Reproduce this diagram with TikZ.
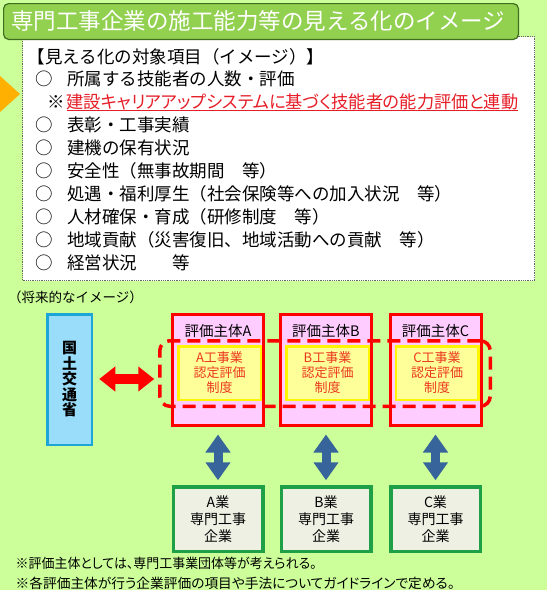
\documentclass[tikz,border=0pt]{standalone}
\usepackage{fontspec}
\setmainfont{Noto Sans CJK JP}
\usetikzlibrary{arrows.meta}
\definecolor{bggreen}{RGB}{204,255,153}
\definecolor{titlefill}{RGB}{146,208,80}
\definecolor{titledraw}{RGB}{62,110,30}
\definecolor{orangetri}{RGB}{255,176,0}
\definecolor{redtext}{RGB}{230,30,40}
\definecolor{evalpink}{RGB}{255,204,255}
\definecolor{yellowfill}{RGB}{255,255,153}
\definecolor{yellowdraw}{RGB}{255,245,0}
\definecolor{yred}{RGB}{235,55,30}
\definecolor{mlitfill}{RGB}{153,221,250}
\definecolor{mlitdraw}{RGB}{30,165,215}
\definecolor{bluearrow}{RGB}{55,100,155}
\definecolor{compdraw}{RGB}{30,160,70}
\definecolor{compfill}{RGB}{238,240,228}
\newcommand\fs[2]{\fontsize{#1}{#2}\selectfont}
\begin{document}
\begin{tikzpicture}[x=1pt,y=-1pt,
  txt/.style={anchor=base west, inner sep=0pt},
  itemfont/.style={font=\fs{17.5}{23}},
  titlebox/.style={draw=titledraw, fill=titlefill, line width=1.2pt, rounded corners=5pt, inner sep=0pt, minimum width=514.8pt, minimum height=35.8pt},
  listbox/.style={draw=black!60, densely dotted, line width=0.8pt, fill=white, inner sep=0pt, minimum width=512pt, minimum height=244pt},
  mlitbox/.style={draw=mlitdraw, fill=mlitfill, line width=2.5pt, inner sep=0pt, minimum width=44.5pt, minimum height=130.5pt, align=center, font=\fs{15}{15.5}\bfseries},
  evalbox/.style={draw=red, fill=evalpink, line width=3pt, inner sep=0pt, minimum width=91pt, minimum height=111pt},
  evallabel/.style={inner sep=0pt, font=\fs{14.5}{16}},
  ybox/.style={draw=yellowdraw, fill=yellowfill, line width=2.5pt, inner sep=0pt, minimum width=82.5pt, minimum height=53.5pt, align=center, text=yred, font=\fs{13}{15}},
  dashbox/.style={draw=red, line width=3.5pt, dash pattern=on 13pt off 7pt, rounded corners=10pt, inner sep=0pt, minimum width=330.5pt, minimum height=65.5pt},
  compbox/.style={draw=compdraw, fill=compfill, line width=3.5pt, inner sep=0pt, minimum width=89.5pt, minimum height=64.5pt, align=center, font=\fs{14}{17}},
  redarrow/.style={draw=red, line width=10pt, {Triangle[length=16pt,width=24pt]}-{Triangle[length=16pt,width=24pt]}},
  bluearr/.style={draw=bluearrow, line width=9pt, {Triangle[length=18pt,width=24pt]}-{Triangle[length=18pt,width=24pt]}},
  ]
\path[use as bounding box] (0,0) rectangle (547,590);
\fill[bggreen] (0,0) rectangle (547,590);
% list box
\node[listbox] (list) at (278.5,158.5) {};
% title
\node[titlebox] (title) at (261,21.5) {};
\node[txt, text=white, font=\fs{22.5}{27}] (titletext) at (11,29.6) {専門工事企業の施工能力等の見える化のイメージ};
% orange triangle
\fill[orangetri] (0,76) -- (20,94) -- (0,112) -- cycle;
% header and items
\node[txt, itemfont] (hdr) at (27.5,63.6) {【見える化の対象項目（イメージ）】};
\foreach \k/\t in {0/所属する技能者の人数・評価, 2/表彰・工事実績, 3/建機の保有状況, 4/安全性（無事故期間　等）, 5/処遇・福利厚生（社会保険等への加入状況　等）, 6/人材確保・育成（研修制度　等）, 7/地域貢献（災害復旧、地域活動への貢献　等）, 8/経営状況　　等}{
  \node[txt, itemfont] (bul\k) at (35.5,{85.6+23*\k}) {○};
  \node[txt, itemfont] (item\k) at (67,{85.6+23*\k}) {\t};
}
\node[txt, itemfont] (kome) at (47,108.6) {※};
\node[txt, itemfont, text=redtext] (redline) at (66.5,108.6) {\resizebox{451.5pt}{\height}{\addfontfeature{RawFeature=+palt}建設キャリアアップシステムに基づく技能者の能力評価と連動}};
\draw[redtext, line width=1pt] ([yshift=-2pt]redline.base west) -- ([yshift=-2pt]redline.base east);
% future image label
\node[txt, font=\fs{13.5}{15}] (future) at (8,302) {（将来的なイメージ）};
% MLIT
\node[mlitbox] (mlit) at (69.5,379.5) {国\\土\\交\\通\\省};
% evaluation bodies
\foreach \n/\cx in {A/218, B/326, C/435.5}{
  \node[evalbox] (eval\n) at (\cx,370) {};
  \node[evallabel] (lab\n) at (\cx,331) {評価主体\n};
  \node[ybox] (sys\n) at ({\cx+1.5},373) {\n 工事業\\認定評価\\制度};
}
\node[dashbox] (dash) at (325,373.5) {};
% red double arrow
\draw[redarrow, shorten <=6.25pt, shorten >=3.75pt] (mlit.east |- 0,379) -- (dash.west |- 0,379);
% companies
\foreach \n/\cx in {A/218, B/326, C/435.5}{
  \node[compbox] (comp\n) at (\cx,519) {\n 業\\専門工事\\企業};
  \draw[bluearr, shorten <=7.5pt, shorten >=4.75pt] (eval\n.south) -- (comp\n.north);
}
% footnotes
\node[txt, font=\fs{13.5}{16}] (note1) at (15.5,568.4) {\resizebox{301pt}{\height}{\addfontfeature{RawFeature=+palt}※評価主体としては、専門工事業団体等が考えられる。}};
\node[txt, font=\fs{13.5}{16}] (note2) at (15.5,588) {\resizebox{439pt}{\height}{\addfontfeature{RawFeature=+palt}※各評価主体が行う企業評価の項目や手法についてガイドラインで定める。}};
\end{tikzpicture}
\end{document}
